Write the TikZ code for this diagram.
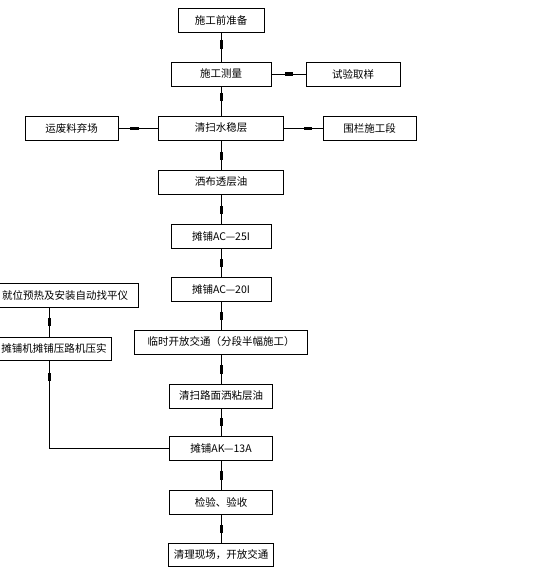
\documentclass[tikz,border=0pt]{standalone}
\usepackage{fontspec}
\newfontfamily\cjk{Noto Sans CJK SC}
\usetikzlibrary{arrows.meta,decorations.markings}
\tikzset{
  box/.style={draw, line width=0.7pt, minimum height=24pt, inner sep=0pt,
    font=\cjk\fontsize{10.5}{12}\selectfont},
  flow/.style={draw, line width=0.7pt, postaction={decorate},
    decoration={markings, mark=at position #1 with {\arrow{Rectangle[length=8pt,width=3pt]}}}},
  flow/.default=0.65
}
\begin{document}
\begin{tikzpicture}[x=1pt,y=-1pt]
\useasboundingbox (0,0) rectangle (547,567);
\clip (0,0) rectangle (547,567);
\fill[white] (0,0) rectangle (547,567);
% main column
\node[box, minimum width=86pt]  (b1)  at (221,20)  {施工前准备};
\node[box, minimum width=100pt] (b2)  at (221,74)  {施工测量};
\node[box, minimum width=94pt]  (r1)  at (353,74)  {试验取样};
\node[box, minimum width=125pt] (b3)  at (221,128) {清扫水稳层};
\node[box, minimum width=93pt]  (l3)  at (71.5,128) {运废料弃场};
\node[box, minimum width=93pt]  (r3)  at (369.5,128) {围栏施工段};
\node[box, minimum width=125pt] (b4)  at (221,182) {洒布透层油};
\node[box, minimum width=100pt] (b5)  at (221,236) {摊铺AC—25I};
\node[box, minimum width=100pt] (b6)  at (221,289) {摊铺AC—20I};
\node[box, minimum width=173pt] (b7)  at (221,342) {临时开放交通（分段半幅施工）};
\node[box, minimum width=103pt] (b8)  at (221,396) {清扫路面洒粘层油};
\node[box, minimum width=103pt] (b9)  at (221,448) {摊铺AK—13A};
\node[box, minimum width=103pt] (b10) at (221,502) {检验、验收};
\node[box, minimum width=105pt, minimum height=23pt] (b11) at (221,554.5) {清理现场，开放交通};
% left column
\node[box, minimum width=146pt] (L1) at (65,295.5) {就位预热及安装自动找平仪};
\node[box, minimum width=114pt, minimum height=23pt] (L2) at (54,348.5) {摊铺机摊铺压路机压实};
\coordinate (lc) at (49,0);
% connectors
\draw[flow=0.55] (b1) -- (b2);
\draw[flow=0.63] (b2) -- (r1);
\draw[flow=0.5] (b2) -- (b3);
\draw[flow=0.7] (b3) -- (l3);
\draw[flow=0.72] (b3) -- (r3);
\draw[flow=0.67] (b3) -- (b4);
\draw[flow=0.67] (b4) -- (b5);
\draw[flow=0.65] (b5) -- (b6);
\draw[flow=0.65] (b6) -- (b7);
\draw[flow=0.65] (b7) -- (b8);
\draw[flow=0.65] (b8) -- (b9);
\draw[flow=0.65] (b9) -- (b10);
\draw[flow=0.65] (b10) -- (b11);
\draw[flow=0.63] (L1.south -| lc) -- (L2.north -| lc);
\draw[flow=0.94] (b9.west) -| (L2.south -| lc);
\end{tikzpicture}
\end{document}
